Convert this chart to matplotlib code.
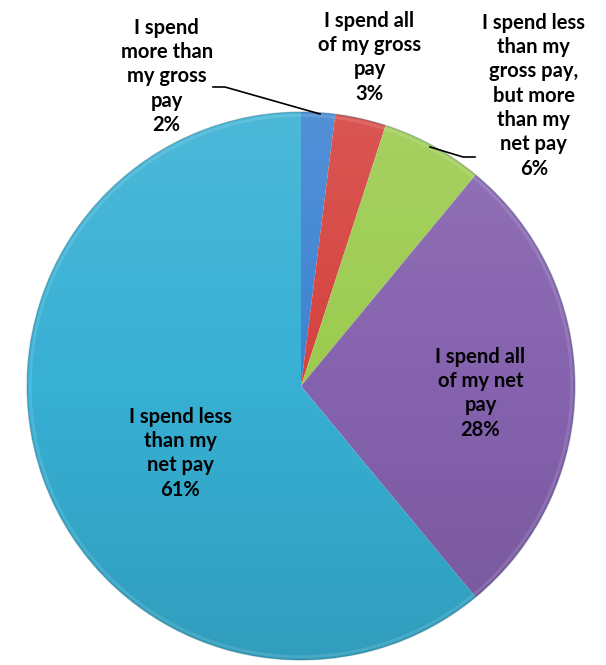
import numpy as np
import matplotlib
matplotlib.use('Agg')
import matplotlib.pyplot as plt
from matplotlib.patches import Circle

# survey answers, clockwise from 12 o'clock
answers = ['I spend\nmore than\nmy gross\npay',
           'I spend all\nof my gross\npay',
           'I spend less\nthan my\ngross pay,\nbut more\nthan my\nnet pay',
           'I spend all\nof my net\npay',
           'I spend less\nthan my\nnet pay']
shares = [2, 3, 6, 28, 61]
colors = ['#3d83d2', '#d5423e', '#9ccb4f', '#8562ae', '#37b0d4']

# where each label sits (pie centre at 0,0, radius 1)
label_xy = [(-0.49, 1.13), (0.25, 1.20), (0.85, 1.06), (0.655, -0.026), (-0.44, -0.245)]

R = 274.0
cx, cy = 301.0, 386.0
W, H = 606, 665

fig = plt.figure(figsize=(W / 100, H / 100), dpi=100)
ax = fig.add_axes([0, 0, 1, 1])

wedges, _ = ax.pie(shares, colors=colors, startangle=90, counterclock=False,
                   radius=1, center=(0, 0), frame=True,
                   wedgeprops=dict(edgecolor='none', linewidth=0))

# soft top-to-bottom shading over the whole pie
grad = np.linspace(1, 0, 256).reshape(-1, 1)
shade = np.zeros((256, 1, 4))
shade[..., :3] = np.where(grad[..., None] > 0.5, 1.0, 0.0)
shade[..., 3] = np.abs(grad - 0.5) * 0.22
img = ax.imshow(shade, extent=(-1, 1, -1, 1), aspect='auto', zorder=3, interpolation='bilinear')
img.set_clip_path(Circle((0, 0), 1, transform=ax.transData))
ax.set_xlim(-cx / R, (W - cx) / R)
ax.set_ylim(-(H - cy) / R, cy / R)
ax.set_aspect('auto')
ax.axis('off')

# light bevel rim and dark outline
ax.add_patch(Circle((0, 0), 0.988, fill=False, edgecolor='white', lw=2.0, alpha=0.12, zorder=4))
ax.add_patch(Circle((0, 0), 1.0, fill=False, edgecolor='#1f4f60', lw=0.9, alpha=0.3, zorder=4))
for w in wedges:
    w.set_zorder(2)

for text, v, (x, y) in zip(answers, shares, label_xy):
    ax.text(x, y, f'{text}\n{v}%', ha='center', va='center', fontsize=14.5,
            fontweight='bold', family=['Lato', 'DejaVu Sans'], color='black',
            linespacing=1.27, zorder=5)

# leader lines for the small slices
ax.plot([(213 - cx) / R, (225 - cx) / R, (320 - cx) / R],
        [(cy - 87) / R, (cy - 87) / R, (cy - 114) / R], color='black', lw=1.2, zorder=5)
ax.plot([(430 - cx) / R, (463 - cx) / R, (475 - cx) / R],
        [(cy - 147) / R, (cy - 157) / R, (cy - 157) / R], color='black', lw=1.2, zorder=5)

fig.savefig('out.png', dpi=100)
